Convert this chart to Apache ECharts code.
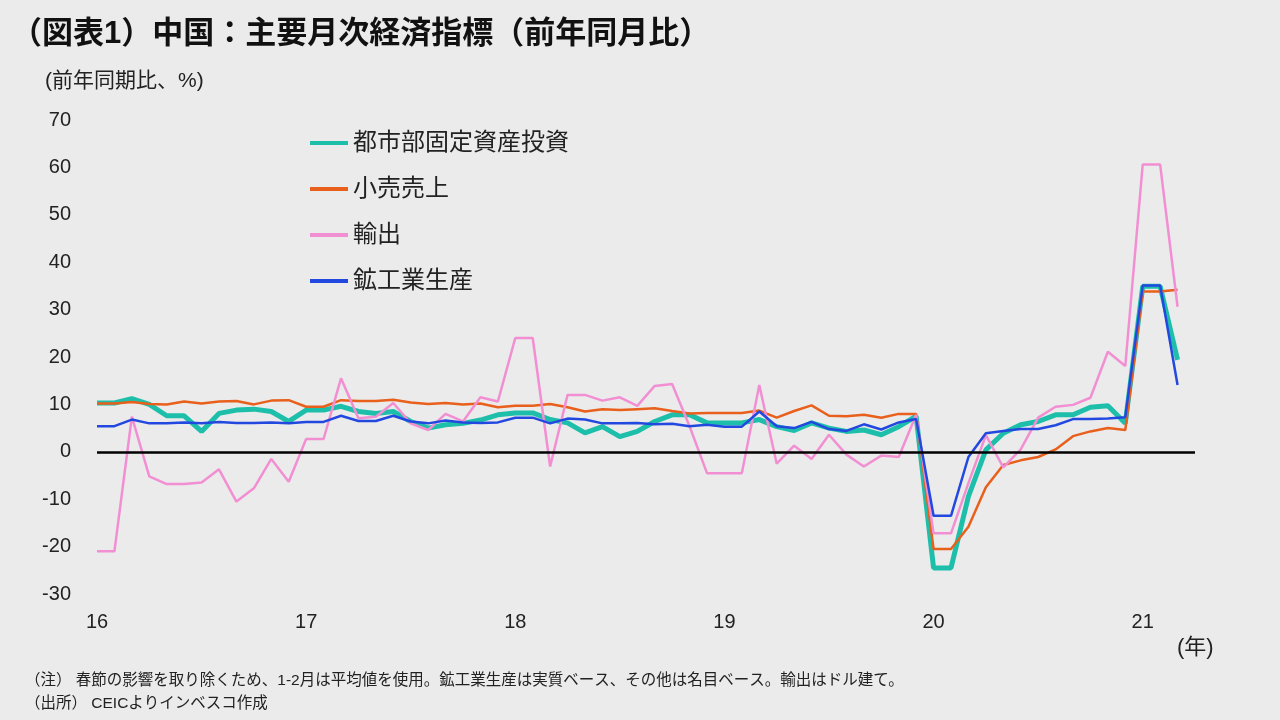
<!DOCTYPE html>
<html><head><meta charset="utf-8">
<script src="https://cdn.jsdelivr.net/npm/echarts@6/dist/echarts.min.js"></script>
<style>html,body{margin:0;padding:0;background:#ebebeb;}#c{width:1280px;height:720px;}</style>
</head><body><div id="c"></div>
<script>
const yearLabels = ['16','17','18','19','20','21'];
const fai = [10.3,10.3,11.2,10.0,7.6,7.6,4.3,8.1,8.8,9.0,8.5,6.4,
 8.8,8.8,9.6,8.5,8.1,8.5,6.4,5.0,5.7,6.0,6.7,7.8,
 8.2,8.2,6.8,6.1,4.0,5.3,3.2,4.3,6.4,7.8,7.8,6.1,
 6.1,6.1,6.8,5.3,4.5,6.1,5.0,4.3,4.6,3.6,5.3,7.5,
 -24.5,-24.5,-9.4,0.4,3.9,5.7,6.4,7.8,7.8,9.4,9.7,6.0,
 34.9,34.9,19.4];
const retail = [10.2,10.2,10.5,10.1,10.0,10.6,10.2,10.6,10.7,10.0,10.8,10.9,
 9.5,9.5,10.9,10.7,10.7,11.0,10.4,10.1,10.3,10.0,10.2,9.4,
 9.7,9.7,10.1,9.4,8.5,9.0,8.8,9.0,9.2,8.6,8.1,8.2,
 8.2,8.2,8.7,7.2,8.6,9.8,7.6,7.5,7.8,7.2,8.0,8.0,
 -20.5,-20.5,-15.8,-7.5,-2.8,-1.8,-1.1,0.5,3.3,4.3,5.0,4.6,
 33.8,33.8,34.2];
const exportsYoY = [-21,-21,7.4,-5.2,-6.8,-6.8,-6.5,-3.7,-10.5,-7.7,-1.5,-6.3,
 2.7,2.7,15.5,7.1,7.4,10.3,6.0,4.6,8.0,6.4,11.5,10.6,
 24,24,-3.1,12.0,12.0,10.8,11.5,9.7,13.9,14.3,5.4,-4.5,
 -4.5,-4.5,14.1,-2.5,1.3,-1.5,3.6,-0.6,-3.1,-0.8,-1.1,7.8,
 -17.2,-17.2,-6.6,3.5,-3.3,0.5,7.2,9.5,9.9,11.4,21.1,18.1,
 60.6,60.6,30.6];
const ip = [5.4,5.4,6.8,6.0,6.0,6.2,6.0,6.3,6.1,6.1,6.2,6.0,
 6.3,6.3,7.6,6.5,6.5,7.6,6.4,6.0,6.6,6.2,6.1,6.2,
 7.2,7.2,6.0,7.0,6.8,6.0,6.0,6.1,5.8,5.9,5.4,5.7,
 5.3,5.3,8.5,5.4,5.0,6.3,4.8,4.4,5.8,4.7,6.2,6.9,
 -13.5,-13.5,-1.1,3.9,4.4,4.8,4.8,5.6,6.9,6.9,7.0,7.3,
 35.1,35.1,14.1];
const seriesNames = ['都市部固定資産投資','小売売上','輸出','鉱工業生産'];

const categories = [];
yearLabels.forEach(y => { for (let m = 1; m <= 12; m++) categories.push(m === 1 ? y : y + '-' + m); });
categories.length = 64;

const chart = echarts.init(document.getElementById('c'));
const font = "'Liberation Sans', 'Noto Sans CJK JP', sans-serif";
chart.setOption({
  backgroundColor: '#ebebeb',
  textStyle: { fontFamily: font },
  title: [
    { text: '（図表1）中国：主要月次経済指標（前年同月比）', left: 6, top: 14,
      textStyle: { fontSize: 31, fontWeight: 'bold', color: '#111', fontFamily: font } },
    { text: '(前年同期比、%)', left: 40, top: 66, textStyle: { fontSize: 21, fontWeight: 'normal', color: '#222', fontFamily: font } },
    { text: '(年)', left: 1172, top: 632, textStyle: { fontSize: 22, fontWeight: 'normal', color: '#222', fontFamily: font } },
    { text: '（注） 春節の影響を取り除くため、1-2月は平均値を使用。鉱工業生産は実質ベース、その他は名目ベース。輸出はドル建て。\n（出所） CEICよりインベスコ作成',
      left: 20, top: 664, textStyle: { fontSize: 15.5, fontWeight: 'normal', color: '#222', lineHeight: 23, fontFamily: font } }
  ],
  legend: {
    orient: 'vertical', left: 305, top: 126, itemWidth: 38, itemHeight: 4, itemGap: 22,
    icon: 'rect',
    textStyle: { fontSize: 24, color: '#222', fontFamily: font },
    data: seriesNames
  },
  grid: { left: 97, right: 85, top: 120, bottom: 126, containLabel: false },
  xAxis: {
    type: 'category', data: categories, boundaryGap: false,
    axisLine: { show: false }, axisTick: { show: false },
    axisLabel: { interval: (i) => i % 12 === 0, formatter: v => v.indexOf('-') < 0 ? v : '',
      fontSize: 20, color: '#222', margin: 18 }
  },
  yAxis: {
    type: 'value', min: -30, max: 70, interval: 10,
    splitLine: { show: false }, axisLine: { show: false }, axisTick: { show: false },
    axisLabel: { fontSize: 20, color: '#222', margin: 26 }
  },
  series: [
    { name: seriesNames[0], type: 'line', data: fai, symbol: 'none', color: '#1dbfaa', lineStyle: { width: 5 },
      markLine: { silent: true, symbol: 'none', label: { show: false }, lineStyle: { color: '#000', width: 2.5, type: 'solid' }, data: [{ yAxis: 0 }] } },
    { name: seriesNames[1], type: 'line', data: retail, symbol: 'none', color: '#e8601c', lineStyle: { width: 2.5 } },
    { name: seriesNames[2], type: 'line', data: exportsYoY, symbol: 'none', color: '#f28fd3', lineStyle: { width: 2.5 } },
    { name: seriesNames[3], type: 'line', data: ip, symbol: 'none', color: '#2348e0', lineStyle: { width: 2.5 } }
  ]
});
</script></body></html>
